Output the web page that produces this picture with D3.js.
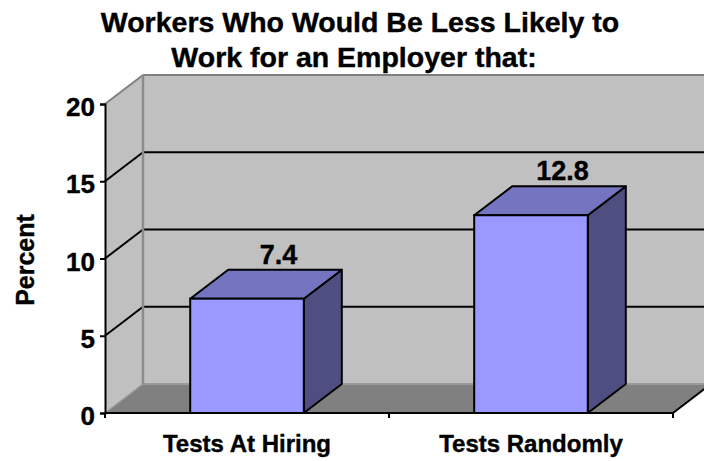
<!DOCTYPE html>
<html>
<head>
<meta charset="utf-8">
<script src="https://cdn.jsdelivr.net/npm/d3@7/dist/d3.min.js"></script>
<style>
  html, body { margin: 0; padding: 0; background: #ffffff; }
  svg { display: block; }
  text { font-family: Arial, "Liberation Sans", sans-serif; font-weight: bold; fill: #000; stroke: #000; stroke-width: 0.4px; }
</style>
</head>
<body>
<svg id="chart" width="704" height="461"></svg>
<script>
// Chart data
const categories = ["Tests At Hiring", "Tests Randomly"];
const values = [7.4, 12.8];
const yTicks = [0, 5, 10, 15, 20];
const titleLines = ["Workers Who Would Be Less Likely to", "Work for an Employer that:"];
const yAxisTitle = "Percent";

const svg = d3.select("#chart");

// Plot frame (front plane) and 3D depth offset
const plotLeft = 105, plotRight = 673, plotBottom = 413, plotTop = 104;
const depthX = 38, depthY = -29;

const x = d3.scaleBand().domain(categories).range([plotLeft, plotRight])
  .paddingInner(0.6).paddingOuter(0.3);
const y = d3.scaleLinear().domain([0, 20]).range([plotBottom, plotTop]);

const pts = a => a.map(p => p.join(",")).join(" ");

// Walls
const g = svg.append("g");
// back wall
g.append("polygon")
  .attr("points", pts([[plotLeft + depthX, y(20) + depthY], [plotRight + depthX + 40, y(20) + depthY],
                       [plotRight + depthX + 40, y(0) + depthY], [plotLeft + depthX, y(0) + depthY]]))
  .attr("fill", "#c0c0c0");
// side wall
g.append("polygon")
  .attr("points", pts([[plotLeft, y(0)], [plotLeft, y(20)], [plotLeft + depthX, y(20) + depthY], [plotLeft + depthX, y(0) + depthY]]))
  .attr("fill", "#c0c0c0");
// floor
g.append("polygon")
  .attr("points", pts([[plotLeft, y(0)], [plotRight, y(0)], [plotRight + depthX, y(0) + depthY], [plotLeft + depthX, y(0) + depthY]]))
  .attr("fill", "#808080");

// Gridlines on back and side walls
const inner = yTicks.filter(v => v > 0 && v < 20);
g.selectAll("line.gback").data(inner).join("line")
  .attr("x1", plotLeft + depthX).attr("x2", 704)
  .attr("y1", d => y(d) + depthY).attr("y2", d => y(d) + depthY)
  .attr("stroke", "#000").attr("stroke-width", 2);
g.selectAll("line.gside").data(inner).join("line")
  .attr("x1", plotLeft).attr("x2", plotLeft + depthX)
  .attr("y1", d => y(d)).attr("y2", d => y(d) + depthY)
  .attr("stroke", "#000").attr("stroke-width", 2);

// Wall edges
const edge = (x1, y1, x2, y2, c, w) => g.append("line")
  .attr("x1", x1).attr("y1", y1).attr("x2", x2).attr("y2", y2)
  .attr("stroke", c).attr("stroke-width", w);
edge(plotLeft + depthX, y(20) + depthY, 704, y(20) + depthY, "#808080", 2);
edge(plotLeft, y(20), plotLeft + depthX, y(20) + depthY, "#808080", 2);
edge(plotLeft + depthX, y(20) + depthY, plotLeft + depthX, y(0) + depthY, "#8c8c8c", 2.5);
edge(plotLeft + depthX, y(0) + depthY, 704, y(0) + depthY, "#9a9a9a", 2);
edge(plotLeft, y(0), plotLeft + depthX, y(0) + depthY, "#9a9a9a", 1.5);
edge(plotRight, y(0), plotRight + depthX, y(0) + depthY, "#000", 2);

// Bars (front, top, side faces)
const bw = x.bandwidth();
const bars = svg.append("g").selectAll("g").data(values).join("g");
bars.append("polygon")
  .attr("points", (d, i) => {
    const x0 = x(categories[i]) + bw, yt = y(d), yb = y(0);
    return pts([[x0, yt], [x0 + depthX, yt + depthY], [x0 + depthX, yb + depthY], [x0, yb]]);
  })
  .attr("fill", "#4e4e80").attr("stroke", "#000").attr("stroke-width", 2).attr("stroke-linejoin", "round");
bars.append("polygon")
  .attr("points", (d, i) => {
    const x0 = x(categories[i]), yt = y(d);
    return pts([[x0, yt], [x0 + depthX, yt + depthY], [x0 + bw + depthX, yt + depthY], [x0 + bw, yt]]);
  })
  .attr("fill", "#7474c0").attr("stroke", "#000").attr("stroke-width", 2).attr("stroke-linejoin", "round");
bars.append("rect")
  .attr("x", (d, i) => x(categories[i]))
  .attr("y", d => y(d))
  .attr("width", bw)
  .attr("height", d => y(0) - y(d))
  .attr("fill", "#9999ff").attr("stroke", "#000").attr("stroke-width", 2);

// Value labels
bars.append("text")
  .attr("x", (d, i) => x(categories[i]) + bw / 2 + 31.5)
  .attr("y", d => y(d) + depthY - 6)
  .attr("text-anchor", "middle")
  .style("font-size", "27px")
  .text(d => d.toFixed(1));

// Value axis
const yAxis = d3.axisLeft(y).tickValues(yTicks).tickSize(5).tickPadding(5).tickFormat(d3.format("d"));
const ya = svg.append("g").attr("transform", `translate(${plotLeft},0)`).call(yAxis);
ya.select(".domain").attr("stroke", "#000").attr("stroke-width", 2);
ya.selectAll(".tick line").attr("stroke", "#000").attr("stroke-width", 2);
ya.selectAll(".tick text").style("font-size", "26px").attr("dy", "0.45em").attr("fill", "#000");

// Category axis
const xa = svg.append("g").attr("transform", `translate(0,${plotBottom})`);
xa.append("line").attr("x1", plotLeft).attr("x2", plotRight).attr("stroke", "#000").attr("stroke-width", 2);
const bounds = [plotLeft, (plotLeft + plotRight) / 2, plotRight];
xa.selectAll("line.t").data(bounds).join("line")
  .attr("x1", d => d).attr("x2", d => d).attr("y1", 0).attr("y2", 5)
  .attr("stroke", "#000").attr("stroke-width", 2);
xa.selectAll("text").data(categories).join("text")
  .attr("x", d => x(d) + bw / 2)
  .attr("y", 39)
  .attr("text-anchor", "middle")
  .style("font-size", "24px")
  .text(d => d);

// Axis title
svg.append("text")
  .attr("transform", "translate(34,260) rotate(-90)")
  .attr("text-anchor", "middle")
  .style("font-size", "25px")
  .text(yAxisTitle);

// Chart title
svg.selectAll("text.title").data(titleLines).join("text")
  .attr("class", "title")
  .attr("x", (d, i) => i === 0 ? 360 : 354)
  .attr("y", (d, i) => 32 + i * 35)
  .attr("text-anchor", "middle")
  .style("font-size", "28.5px")
  .text(d => d);
</script>
</body>
</html>
